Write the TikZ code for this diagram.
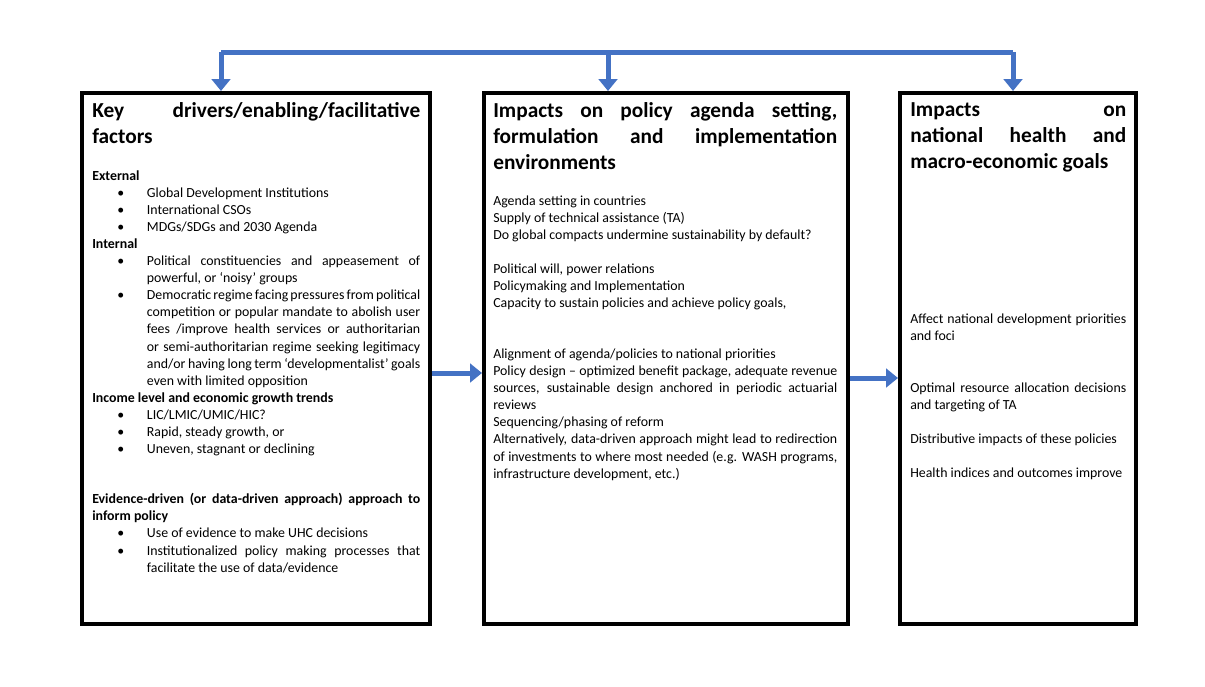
\documentclass[tikz,border=0pt]{standalone}
\usepackage{fontspec}
\setmainfont{Carlito}
\usepackage{enumitem}
\usetikzlibrary{arrows.meta}
\setlist[itemize]{label=\textbullet, leftmargin=41pt, labelsep=17pt, itemsep=0pt, topsep=0pt, parsep=0pt, partopsep=0pt}
\definecolor{arrowblue}{HTML}{4472C4}
\newcommand{\boxtitle}[1]{{\fontsize{16}{19.5}\selectfont\bfseries #1\par}}
\newcommand{\nohyph}{\hyphenpenalty=10000\exhyphenpenalty=10000\tolerance=9999\emergencystretch=20pt}

\begin{document}
\begin{tikzpicture}[x=0.75pt, y=-0.75pt,
	box/.style={draw, line width=3pt, minimum height=398.25pt, inner sep=0pt},
	boxtext/.style={anchor=north west, inner sep=0pt, align=justify, font=\fontsize{10.4}{12.8}\selectfont\nohyph},
	flow/.style={draw=arrowblue, line width=3.75pt, -{Triangle[width=14pt, length=9pt]}}]
		%frame of the picture
		\useasboundingbox (0,0) rectangle (1205,686);
		
		%boxes
		\node (b1) [box, minimum width=261pt] at (256,358.5) {};
		\node (b2) [box, minimum width=273pt] at (666,358.5) {};
		\node (b3) [box, minimum width=177pt] at (1018,358.5) {};
		
		%texts
		\node (t1) [boxtext, text width=246pt] at (92,102) {%
			\boxtitle{Key drivers/enabling/facilitative factors}
			\vspace{15pt}
			\textbf{External}
			\begin{itemize}
				\item Global Development Institutions
				\item International CSOs
				\item MDGs/SDGs and 2030 Agenda
			\end{itemize}
			\textbf{Internal}
			\begin{itemize}
				\item Political constituencies and appeasement of powerful, or ‘noisy’ groups
				\item Democratic regime facing pressures from political competition or popular mandate to abolish user fees /improve health services or authoritarian or semi-authoritarian regime seeking legitimacy and/or having long term ‘developmentalist’ goals even with limited opposition
			\end{itemize}
			\textbf{Income level and economic growth trends}
			\begin{itemize}
				\item LIC/LMIC/UMIC/HIC?
				\item Rapid, steady growth, or
				\item Uneven, stagnant or declining
			\end{itemize}
			\vspace{25pt}
			\textbf{Evidence-driven (or data-driven approach) approach to inform policy}
			\begin{itemize}
				\item Use of evidence to make UHC decisions
				\item Institutionalized policy making processes that facilitate the use of data/evidence
			\end{itemize}};
		\node (t2) [boxtext, text width=258pt] at (493,102) {%
			\boxtitle{Impacts on policy agenda setting, formulation and implementation environments}
			\vspace{14pt}
			Agenda setting in countries\\
			Supply of technical assistance (TA)\\
			Do global compacts undermine sustainability by default?\par
			\vspace{12.8pt}
			Political will, power relations\\
			Policymaking and Implementation\\
			Capacity to sustain policies and achieve policy goals,\par
			\vspace{25.6pt}
			Alignment of agenda/policies to national priorities\par
			Policy design -- optimized benefit package, adequate revenue sources, sustainable design anchored in periodic actuarial reviews\par
			Sequencing/phasing of reform\par
			Alternatively, data-driven approach might lead to redirection of investments to where most needed (e.g. WASH programs, infrastructure development, etc.)};
		\node (t3) [boxtext, text width=162pt] at (910,102) {%
			\boxtitle{Impacts on national health and macro-economic goals}
			\vspace{104pt}
			Affect national development priorities and foci\par
			\vspace{25.6pt}
			Optimal resource allocation decisions and targeting of TA\par
			\vspace{12.8pt}
			Distributive impacts of these policies\par
			\vspace{12.8pt}
			Health indices and outcomes improve};
		
		%arrows
		\coordinate (top1) at (221,52);
		\coordinate (top2) at (608,52);
		\coordinate (top3) at (1013,52);
		\draw [arrowblue, line width=3.75pt] (top1) -- (top3);
		\draw [flow] (top1) -- (top1 |- b1.north);
		\draw [flow] (top2) -- (top2 |- b2.north);
		\draw [flow] (top3) -- (top3 |- b3.north);
		\draw [flow] (b1.east |- 0,373) -- (b2.west |- 0,373);
		\draw [flow] (b2.east |- 0,378) -- (b3.west |- 0,378);
	\end{tikzpicture}
\end{document}
